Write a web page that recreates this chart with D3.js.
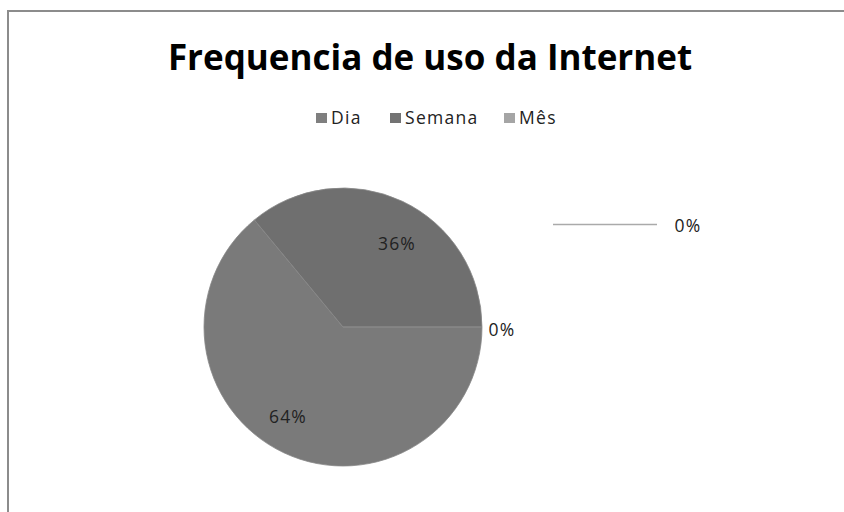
<!DOCTYPE html>
<html>
<head>
<meta charset="utf-8">
<script src="https://cdn.jsdelivr.net/npm/d3@7"></script>
<style>
  body { margin: 0; background: #fff; }
  text { font-family: "Open Sans", sans-serif; }
</style>
</head>
<body>
<script>
const title = "Frequencia de uso da Internet";

// data
const categories = ["Dia", "Semana", "Mês"];
const values = [64, 36, 0];
const colors = ["#7a7a7a", "#6f6f6f", "#a6a6a6"];
const legendColors = ["#7f7f7f", "#737373", "#a5a5a5"];

var width = 844;
var height = 512;
var radius = 139;
var cx = 343, cy = 327;

var svg = d3.select("body").append("svg")
  .attr("width", width)
  .attr("height", height);

// chart frame
svg.append("rect")
  .attr("x", 8).attr("y", 11)
  .attr("width", width).attr("height", height)
  .attr("fill", "#fff")
  .attr("stroke", "#8c8c8c")
  .attr("stroke-width", 2);

// title
svg.append("text")
  .attr("x", 430)
  .attr("y", 70)
  .attr("text-anchor", "middle")
  .attr("font-size", 35)
  .attr("font-weight", "bold")
  .attr("fill", "#000")
  .text(title);

// legend
var legendX = [316, 390, 504];
var legend = svg.append("g");
categories.forEach(function(c, i) {
  legend.append("rect")
    .attr("x", legendX[i]).attr("y", 113)
    .attr("width", 11).attr("height", 10)
    .attr("fill", legendColors[i]);
  legend.append("text")
    .attr("x", legendX[i] + 15).attr("y", 124)
    .attr("font-size", 17.5)
    .attr("letter-spacing", 1.3)
    .attr("fill", "#222")
    .text(c);
});

// pie, first slice starts at 3 o'clock, clockwise
var pie = d3.pie().sort(null)
  .startAngle(Math.PI / 2)
  .endAngle(Math.PI / 2 + 2 * Math.PI);

var arc = d3.arc().innerRadius(0).outerRadius(radius);

var g = svg.append("g").attr("transform", "translate(" + cx + "," + cy + ")");
var arcs = pie(values);

g.selectAll("path")
  .data(arcs)
  .enter()
  .append("path")
  .attr("fill", function(d, i) { return colors[i]; })
  .attr("stroke", "#888")
  .attr("stroke-width", 0.8)
  .attr("d", arc);

// labels
var total = d3.sum(values);
var fmt = function(v) { return Math.round(v / total * 100) + "%"; };
var labelPos = [[-55, 96], [54, -77], [159, 9]];
arcs.forEach(function(d, i) {
  g.append("text")
    .attr("x", labelPos[i][0]).attr("y", labelPos[i][1])
    .attr("text-anchor", "middle")
    .attr("font-size", 17.5)
    .attr("letter-spacing", 1.2)
    .attr("fill", "#222")
    .text(fmt(d.value));
});

// extra 0% label with leader line (from the chart's second data label)
svg.append("line")
  .attr("x1", 553).attr("x2", 657)
  .attr("y1", 224.5).attr("y2", 224.5)
  .attr("stroke", "#aaa")
  .attr("stroke-width", 1.5);
svg.append("text")
  .attr("x", 688).attr("y", 232)
  .attr("text-anchor", "middle")
  .attr("font-size", 17.5)
  .attr("letter-spacing", 1.2)
  .attr("fill", "#222")
  .text(fmt(values[2]));
</script>
</body>
</html>
